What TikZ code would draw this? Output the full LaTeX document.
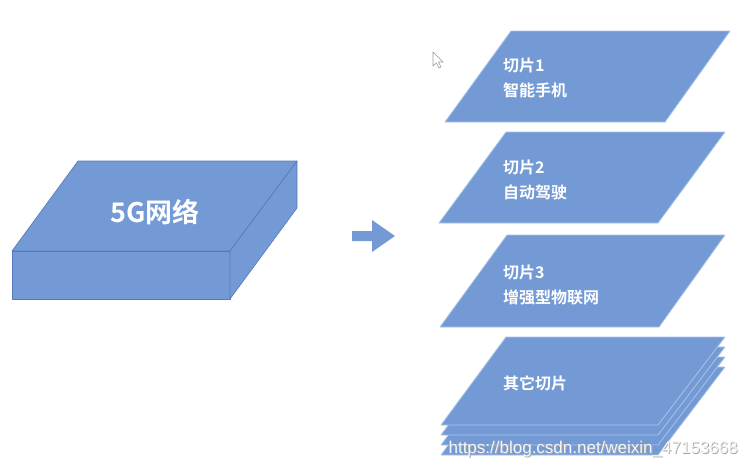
\documentclass[tikz,border=0pt]{standalone}
\usepackage{fontspec}
\newfontfamily\cjk{Noto Sans CJK SC}[BoldFont={Noto Sans CJK SC Bold}]
\setsansfont{Liberation Sans}
\definecolor{slicefill}{RGB}{115,154,212}
\definecolor{sliceedge}{RGB}{170,195,232}
\definecolor{boxedge}{RGB}{84,122,190}
\begin{document}
\begin{tikzpicture}[x=1pt,y=-1pt,
  slicebox/.style={fill=slicefill,draw=sliceedge,line width=0.8pt,line join=round},
  cube/.style={fill=slicefill,draw=boxedge,line width=0.6pt,line join=round},
  slicetxt/.style={text=white,font=\cjk\bfseries\fontsize{16}{18}\selectfont,anchor=west,inner sep=0pt},
  bigtxt/.style={text=white,font=\cjk\bfseries\fontsize{27}{30}\selectfont,inner sep=0pt}]
\useasboundingbox (0,0) rectangle (748,474);
\fill[white] (0,0) rectangle (748,474);
% 5G box
\path[cube] (78,161) -- (297,161) -- (230,251) -- (12,251) -- cycle;
\path[cube] (12,251) -- (230,251) -- (230,299) -- (12,299) -- cycle;
\path[cube] (230,251) -- (297,161) -- (297,208) -- (230,299) -- cycle;
\node[bigtxt] (net) at (155,212) {5G网络};
% arrow
\fill[slicefill] (352,231) -- (372,231) -- (372,220) -- (395,236) -- (372,252) -- (372,241) -- (352,241) -- cycle;
% slice 1
\path[slicebox] (511,31) -- (730,31) -- (665,122) -- (445,122) -- cycle;
\node[slicetxt] (s1a) at (503,65) {切片1};
\node[slicetxt] (s1b) at (503,90) {智能手机};
% slice 2
\path[slicebox] (506,132) -- (725,132) -- (658,223) -- (439,223) -- cycle;
\node[slicetxt] (s2a) at (503,167) {切片2};
\node[slicetxt] (s2b) at (503,192) {自动驾驶};
% slice 3
\path[slicebox] (507,235) -- (725,235) -- (659,327) -- (440,327) -- cycle;
\node[slicetxt] (s3a) at (503,272) {切片3};
\node[slicetxt] (s3b) at (503,297) {增强型物联网};
% stack
\foreach \d in {30,20,10,0}{
  \path[slicebox] (506,337+\d) -- (725,337+\d) -- (658,425+\d) -- (441,425+\d) -- cycle;
}
\node[slicetxt] (s4) at (503,383) {其它切片};
% cursor
\draw[gray!80,fill=white,line width=0.6pt,line join=round] (433,52) -- (433,66) -- (436.5,63) -- (439,68) -- (441,67) -- (438.5,62) -- (443,62) -- cycle;
% watermark
\node[text=gray!70,font=\sffamily\fontsize{17}{19}\selectfont,anchor=east,inner sep=0pt] (wm0) at (738.8,449.8) {https://blog.csdn.net/weixin\_47153668};
\node[text=white!92!gray,font=\sffamily\fontsize{17}{19}\selectfont,anchor=east,inner sep=0pt] (wm) at (738,449) {https://blog.csdn.net/weixin\_47153668};
\end{tikzpicture}
\end{document}
